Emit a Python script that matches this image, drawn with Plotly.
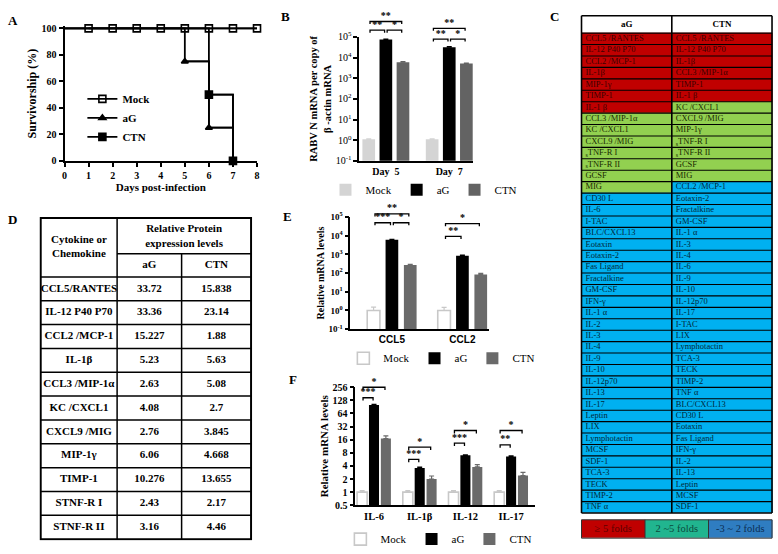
import math
import plotly.graph_objects as go

W, H = 778, 554
SERIF = "Liberation Serif"
SANS = "Liberation Sans"

# ---------------- A: survival ----------------
mock_days = [0, 1, 2, 3, 4, 5, 6, 7, 8]
mock_surv = [100, 100, 100, 100, 100, 100, 100, 100, 100]
ag_days = [0, 5, 6, 7]
ag_surv = [100, 75, 25, 0]
ctn_days = [0, 6, 7]
ctn_surv = [100, 50, 0]

# ---------------- B: RABV N mRNA ----------------
b_groups = ["Day\u00a0 5", "Day\u00a0 7"]
b_mock = [1.1, 1.1]
b_mock_err = [0.06, 0.06]
b_ag = [7.5e4, 3.2e4]
b_ag_err = [4e3, 2e3]
b_ctn = [6.0e3, 5.2e3]
b_ctn_err = [4e2, 3e2]
# (group, left bar, right bar, log10 level, label)
b_sig = [
    (0, "Mock", "aG", 5.33, "**"),
    (0, "aG", "CTN", 5.33, "*"),
    (0, "Mock", "CTN", 5.75, "**"),
    (1, "Mock", "aG", 4.90, "**"),
    (1, "aG", "CTN", 4.90, "*"),
    (1, "Mock", "CTN", 5.42, "**"),
]

# ---------------- E: CCL5 / CCL2 mRNA ----------------
e_groups = ["CCL5", "CCL2"]
e_mock = [1.0, 1.0]
e_mock_err = [0.5, 0.45]
e_ag = [6000, 850]
e_ag_err = [400, 60]
e_ctn = [270, 85]
e_ctn_err = [20, 12]
e_sig = [
    (0, "Mock", "aG", 4.69, "***"),
    (0, "aG", "CTN", 4.69, "*"),
    (0, "Mock", "CTN", 5.16, "**"),
    (1, "Mock", "aG", 3.96, "**"),
    (1, "Mock", "CTN", 4.64, "*"),
]

# ---------------- F: IL mRNA ----------------
f_groups = ["IL-6", "IL-1β", "IL-12", "IL-17"]
f_mock = [1.0, 1.0, 1.0, 1.0]
f_mock_err = [0.08, 0.08, 0.08, 0.08]
f_ag = [100, 3.6, 7.0, 6.6]
f_ag_err = [4, 0.15, 0.2, 0.2]
f_ctn = [17, 2.0, 3.8, 2.4]
f_ctn_err = [2.5, 0.35, 0.5, 0.45]
# levels in log2
f_sig = [
    (0, "Mock", "aG", 7.2, "***"),
    (0, "Mock", "CTN", 8.0, "*"),
    (1, "Mock", "aG", 2.5, "***"),
    (1, "Mock", "CTN", 3.44, "*"),
    (2, "Mock", "aG", 3.74, "***"),
    (2, "Mock", "CTN", 4.7, "*"),
    (3, "Mock", "aG", 3.6, "**"),
    (3, "Mock", "CTN", 4.7, "*"),
]

# ---------------- C: fold-change table ----------------
c_ag_high = ["CCL5 /RANTES", "IL-12 P40 P70", "CCL2 /MCP-1", "IL-1β", "MIP-1γ",
             "TIMP-1", "IL-1 β"]
c_ag_mid = ["CCL3 /MIP-1α", "KC /CXCL1", "CXCL9 /MIG", "<sub>s</sub>TNF-R I",
            "<sub>s</sub>TNF-R II", "GCSF", "MIG"]
c_ag_low = ["CD30 L", "IL-6", "I-TAC", "BLC/CXCL13", "Eotaxin", "Eotaxin-2",
            "Fas Ligand", "Fractalkine", "GM-CSF", "IFN-γ", "IL-1 α", "IL-2", "IL-3",
            "IL-4", "IL-9", "IL-10", "IL-12p70", "IL-13", "IL-17", "Leptin", "LIX",
            "Lymphotactin", "MCSF", "SDF-1", "TCA-3", "TECK", "TIMP-2", "TNF α"]
c_ctn_high = ["CCL5 /RANTES", "IL-12 P40 P70", "IL-1β", "CCL3 /MIP-1α", "TIMP-1",
              "IL-1 β"]
c_ctn_mid = ["KC /CXCL1", "CXCL9 /MIG", "MIP-1γ", "<sub>s</sub>TNF-R I",
             "<sub>s</sub>TNF-R II", "GCSF", "MIG"]
c_ctn_low = ["CCL2 /MCP-1", "Eotaxin-2", "Fractalkine", "GM-CSF", "IL-1 α", "IL-3",
             "IL-4", "IL-6", "IL-9", "IL-10", "IL-12p70", "IL-17", "I-TAC", "LIX",
             "Lymphotactin", "TCA-3", "TECK", "TIMP-2", "TNF α", "BLC/CXCL13",
             "CD30 L", "Eotaxin", "Fas Ligand", "IFN-γ", "IL-2", "IL-13", "Leptin",
             "MCSF", "SDF-1"]
c_legend = ["≥ 5 folds", "2 ~5 folds", "-3 ~ 2 folds"]

# ---------------- D: protein table ----------------
d_names = ["CCL5/RANTES", "IL-12 P40 P70", "CCL2 /MCP-1", "IL-1β", "CCL3 /MIP-1α",
           "KC /CXCL1", "CXCL9 /MIG", "MIP-1γ", "TIMP-1", "STNF-R I", "STNF-R II"]
d_ag = [33.72, 33.36, 15.227, 5.23, 2.63, 4.08, 2.76, 6.06, 10.276, 2.43, 3.16]
d_ctn = [15.838, 23.14, 1.88, 5.63, 5.08, 2.7, 3.845, 4.668, 13.655, 2.17, 4.46]

RED, GREEN, BLUE = "#C00000", "#92D050", "#00B0F0"
TXT = ["#3a0000", "#1a2a00", "#00283a"]


def xd(a, b):
    return [a / W, b / W]


def yd(top, bottom):
    return [1 - bottom / H, 1 - top / H]


def f_(size, bold=False, family=SERIF, color="black"):
    d = dict(family=family, size=size, color=color)
    if bold:
        d["weight"] = "bold"
    return d


AX = dict(showline=True, linecolor="black", linewidth=1.5, ticks="outside",
          ticklen=4, tickwidth=1.5, tickcolor="black", showgrid=False,
          zeroline=False, fixedrange=True)
HID = dict(visible=False, showgrid=False, zeroline=False, fixedrange=True)

fig = go.Figure()

# ---------- A ----------
for name, xs, ys, sym, size in [("Mock", mock_days, mock_surv, "square-open", 7),
                                ("aG", ag_days, ag_surv, "triangle-up", 6),
                                ("CTN", ctn_days, ctn_surv, "square", 7)]:
    fig.add_trace(go.Scatter(x=xs, y=ys, mode="lines", line=dict(color="black", width=1.8, shape="hv"),
                             showlegend=False, hoverinfo="skip", xaxis="x", yaxis="y"))
    mx = [d for d in xs if d > 0]
    my = [v for d, v in zip(xs, ys) if d > 0]
    fig.add_trace(go.Scatter(x=mx, y=my, mode="lines+markers", name=name,
                             line=dict(color="black", width=1.8, shape="hv"),
                             marker=dict(symbol=sym, size=size, color="black",
                                         line=dict(color="black", width=1.6)),
                             cliponaxis=False, hoverinfo="skip", xaxis="x", yaxis="y"))


# ---------- bar panels ----------
def add_bars(groups, series, xa, ya, leg, off, width):
    n = len(groups)
    for k, (name, vals, errs, fill, edge) in enumerate(series):
        xs = [g + (k - 1) * off for g in range(n)]
        fig.add_trace(go.Bar(
            x=xs, y=vals, width=width, name=name, legend=leg,
            marker=dict(color=fill, line=dict(color=edge or fill, width=1.6 if edge else 0)),
            error_y=dict(type="data", array=errs, arrayminus=[0] * n, symmetric=False,
                         color=edge or fill, thickness=1.2, width=2.5),
            xaxis=xa, yaxis=ya, hoverinfo="skip"))


def add_sig(sig, off, xa, ya, base, drop):
    pos = {"Mock": -off, "aG": 0.0, "CTN": off}
    for g, a, b, lvl, label in sig:
        x0 = g + pos[a] + 0.02
        x1 = g + pos[b] - 0.02
        y = base ** lvl
        ylo = base ** (lvl - drop)
        fig.add_trace(go.Scatter(x=[x0, x0, x1, x1], y=[ylo, y, y, ylo], mode="lines",
                                 line=dict(color="black", width=1.3), showlegend=False,
                                 hoverinfo="skip", xaxis=xa, yaxis=ya))
        fig.add_trace(go.Scatter(x=[(x0 + x1) / 2], y=[y], mode="text", text=[label],
                                 textposition="top center", textfont=f_(10, True),
                                 showlegend=False, hoverinfo="skip", cliponaxis=False,
                                 xaxis=xa, yaxis=ya))


add_bars(b_groups, [("Mock", b_mock, b_mock_err, "#D4D4D4", None),
                    ("aG", b_ag, b_ag_err, "black", None),
                    ("CTN", b_ctn, b_ctn_err, "#636363", None)],
         "x2", "y2", "legend2", 0.27, 0.2)
add_sig(b_sig, 0.27, "x2", "y7", 10, 0.12)

add_bars(e_groups, [("Mock", e_mock, e_mock_err, "white", "#C8C8C8"),
                    ("aG", e_ag, e_ag_err, "black", None),
                    ("CTN", e_ctn, e_ctn_err, "#6A6A6A", None)],
         "x3", "y3", "legend3", 0.26, 0.18)
add_sig(e_sig, 0.26, "x3", "y8", 10, 0.14)

add_bars(f_groups, [("Mock", f_mock, f_mock_err, "white", "#C8C8C8"),
                    ("aG", f_ag, f_ag_err, "black", None),
                    ("CTN", f_ctn, f_ctn_err, "#6A6A6A", None)],
         "x4", "y4", "legend4", 0.26, 0.22)
add_sig(f_sig, 0.26, "x4", "y9", 2, 0.22)

# ---------- C table (px units) ----------
C_COLX = [0, 91, 192]
C_HDR = 18
C_ROW = 496 / 42
ag_col = [(s, 0) for s in c_ag_high] + [(s, 1) for s in c_ag_mid] + [(s, 2) for s in c_ag_low]
ctn_col = [(s, 0) for s in c_ctn_high] + [(s, 1) for s in c_ctn_mid] + [(s, 2) for s in c_ctn_low]
nrow = len(ag_col)
c_edges = [0, C_HDR] + [C_HDR + C_ROW * (i + 1) for i in range(nrow)]
z = [[3, 3]] + [[a[1], c[1]] for a, c in zip(ag_col, ctn_col)]
cs = [[0, RED], [0.25, RED], [0.25, GREEN], [0.5, GREEN], [0.5, BLUE], [0.75, BLUE],
      [0.75, "white"], [1, "white"]]
fig.add_trace(go.Heatmap(z=z, x=C_COLX, y=c_edges, colorscale=cs, zmin=0, zmax=3,
                         showscale=False, hoverinfo="skip", xaxis="x5", yaxis="y5"))
centers = [(c_edges[i + 1] + c_edges[i + 2]) / 2 for i in range(nrow)]
for col, x0 in [(ag_col, C_COLX[0]), (ctn_col, C_COLX[1])]:
    fig.add_trace(go.Scatter(x=[x0 + 4] * nrow, y=centers, mode="text",
                             text=[s for s, _ in col], textposition="middle right",
                             textfont=dict(family=SERIF, size=8.5, color=[TXT[k] for _, k in col]),
                             showlegend=False, hoverinfo="skip", cliponaxis=False,
                             xaxis="x5", yaxis="y5"))
fig.add_trace(go.Scatter(x=[(C_COLX[0] + C_COLX[1]) / 2, (C_COLX[1] + C_COLX[2]) / 2],
                         y=[C_HDR / 2] * 2, mode="text", text=["aG", "CTN"],
                         textfont=f_(9, True), showlegend=False, hoverinfo="skip",
                         xaxis="x5", yaxis="y5"))
shapes = []
for i, yv in enumerate(c_edges):
    w = 1.6 if i in (0, len(c_edges) - 1) else 1.1
    shapes.append(dict(type="line", xref="x5", yref="y5", x0=C_COLX[0], x1=C_COLX[-1],
                       y0=yv, y1=yv, line=dict(color="black", width=w)))
for xv in C_COLX:
    shapes.append(dict(type="line", xref="x5", yref="y5", x0=xv, x1=xv, y0=0,
                       y1=c_edges[-1], line=dict(color="black", width=1.6)))

# C legend boxes
L_COLX = [0, 64, 128, 192]
L_H = 19
fig.add_trace(go.Heatmap(z=[[0, 1, 2]], x=L_COLX, y=[0, L_H],
                         colorscale=[[0, RED], [0.33, RED], [0.33, "#21B58F"], [0.67, "#21B58F"],
                                     [0.67, "#2F7DC1"], [1, "#2F7DC1"]],
                         zmin=0, zmax=2, showscale=False, hoverinfo="skip",
                         xaxis="x6", yaxis="y6"))
fig.add_trace(go.Scatter(x=[(L_COLX[i] + L_COLX[i + 1]) / 2 for i in range(3)],
                         y=[L_H / 2] * 3, mode="text", text=c_legend,
                         textfont=dict(family=SERIF, size=10.5,
                                       color=["#5a0000", "#0b4a3c", "#0b2d52"]),
                         showlegend=False, hoverinfo="skip", xaxis="x6", yaxis="y6"))
shapes.append(dict(type="rect", xref="x6", yref="y6", x0=0, x1=L_COLX[-1], y0=0, y1=L_H,
                   line=dict(color="#333333", width=1)))
for xv in L_COLX[1:-1]:
    shapes.append(dict(type="line", xref="x6", yref="y6", x0=xv, x1=xv, y0=0, y1=L_H,
                       line=dict(color="#333333", width=1)))

# ---------- D table (px units) ----------
D_COLX = [0, 77, 142, 212]
D_HDR = [0, 37, 61]
D_BOT = 332
nd = len(d_names)
d_row = (D_BOT - D_HDR[-1]) / nd
d_edges = [D_HDR[-1] + d_row * i for i in range(nd + 1)]
dc = [(D_COLX[i] + D_COLX[i + 1]) / 2 for i in range(3)]
dy = [(d_edges[i] + d_edges[i + 1]) / 2 for i in range(nd)]
for xc, vals in [(dc[0], d_names), (dc[1], [f"{v:g}" for v in d_ag]),
                 (dc[2], [f"{v:g}" for v in d_ctn])]:
    fig.add_trace(go.Scatter(x=[xc] * nd, y=dy, mode="text", text=vals,
                             textfont=f_(11, True), showlegend=False, hoverinfo="skip",
                             cliponaxis=False, xaxis="x10", yaxis="y10"))
fig.add_trace(go.Scatter(
    x=[dc[0], (D_COLX[1] + D_COLX[3]) / 2, dc[1], dc[2]],
    y=[(D_HDR[0] + D_HDR[2]) / 2, (D_HDR[0] + D_HDR[1]) / 2 + 1,
       (D_HDR[1] + D_HDR[2]) / 2, (D_HDR[1] + D_HDR[2]) / 2],
    mode="text",
    text=["Cytokine or<br>Chemokine", "Relative Protein<br>expression levels", "aG", "CTN"],
    textfont=f_(11, True), showlegend=False, hoverinfo="skip", cliponaxis=False,
    xaxis="x10", yaxis="y10"))
shapes.append(dict(type="rect", xref="x10", yref="y10", x0=D_COLX[0], x1=D_COLX[-1],
                   y0=0, y1=D_BOT, line=dict(color="black", width=2)))
shapes.append(dict(type="line", xref="x10", yref="y10", x0=D_COLX[1], x1=D_COLX[1],
                   y0=0, y1=D_BOT, line=dict(color="black", width=1.5)))
shapes.append(dict(type="line", xref="x10", yref="y10", x0=D_COLX[2], x1=D_COLX[2],
                   y0=D_HDR[1], y1=D_BOT, line=dict(color="black", width=1.5)))
shapes.append(dict(type="line", xref="x10", yref="y10", x0=D_COLX[1], x1=D_COLX[3],
                   y0=D_HDR[1], y1=D_HDR[1], line=dict(color="black", width=1.5)))
for yv in d_edges[:-1]:
    shapes.append(dict(type="line", xref="x10", yref="y10", x0=D_COLX[0], x1=D_COLX[3],
                       y0=yv, y1=yv, line=dict(color="black", width=1.5)))

# ---------- panel letters ----------
annotations = []
for lab, px, py in [("A", 10, 14), ("B", 285, 10), ("C", 556, 10), ("D", 10, 220),
                    ("E", 287, 217), ("F", 292, 385)]:
    annotations.append(dict(text=lab, x=px / W, y=1 - py / H, xref="paper", yref="paper",
                            showarrow=False, xanchor="center", yanchor="middle",
                            font=f_(13, True)))


def log_ext(top, bottom, lo, hi, ext_top):
    ppu = (bottom - top) / (hi - lo)
    return yd(ext_top, bottom), [lo, hi + (top - ext_top) / ppu]


b_dom, b_rng = log_ext(31, 159, -1, 5, 2)
e_dom, e_rng = log_ext(217, 333, -1, 5, 203)
f_lo, f_hi = math.log10(0.5), math.log10(256)
f_dom, f_rng = log_ext(393, 515, f_lo, f_hi, 379)

pow_ticks = [10 ** k for k in range(-1, 6)]
pow_text = [f"10<sup>{k}</sup>" for k in range(-1, 6)]
f_ticks = [2 ** k for k in range(-1, 9)]
f_text = ["0.5"] + [str(2 ** k) for k in range(0, 9)]

fig.update_layout(
    width=W, height=H, autosize=False, margin=dict(l=0, r=0, t=0, b=0),
    paper_bgcolor="white", plot_bgcolor="rgba(0,0,0,0)", barmode="overlay",
    font=dict(family=SERIF, color="black"),
    shapes=shapes, annotations=annotations,
    # A
    xaxis=dict(AX, domain=xd(62, 256), range=[0, 8], tickvals=list(range(9)), anchor="y",
               linewidth=2, tickfont=f_(10, True),
               title=dict(text="Days post-infection", font=f_(11, True), standoff=3)),
    yaxis=dict(AX, domain=yd(20, 159), range=[0, 101.5], tickvals=[0, 20, 40, 60, 80, 100],
               anchor="x", linewidth=2, tickfont=f_(10, True),
               title=dict(text="Survivorship (%)", font=f_(12, True), standoff=2)),
    # B
    xaxis2=dict(AX, domain=xd(359, 474), range=[-0.42, 1.38], tickvals=[0, 1],
                ticktext=b_groups, ticks="", anchor="y2", tickfont=f_(10, True)),
    yaxis2=dict(AX, domain=yd(31, 159), type="log", range=[-1, 5], tickvals=pow_ticks,
                ticktext=pow_text, anchor="x2", tickfont=f_(10),
                title=dict(text="RABV N mRNA per copy of<br>β -actin mRNA",
                           font=f_(10.5, True), standoff=2)),
    yaxis7=dict(HID, domain=b_dom, type="log", range=b_rng, anchor="x2"),
    # E
    xaxis3=dict(AX, domain=xd(350, 490), range=[-0.59, 1.38], tickvals=[0, 1],
                ticktext=e_groups, ticks="", anchor="y3", tickfont=f_(10, True, SANS)),
    yaxis3=dict(AX, domain=yd(217, 333), type="log", range=[-1, 5], tickvals=pow_ticks,
                ticktext=pow_text, anchor="x3", tickfont=f_(9, True),
                title=dict(text="Relative mRNA levels", font=f_(10, True), standoff=2)),
    yaxis8=dict(HID, domain=e_dom, type="log", range=e_rng, anchor="x3"),
    # F
    xaxis4=dict(AX, domain=xd(355, 536), range=[-0.41, 3.52], tickvals=[0, 1, 2, 3],
                ticktext=f_groups, ticks="", anchor="y4", tickfont=f_(10.5, True)),
    yaxis4=dict(AX, domain=yd(393, 515), type="log", range=[f_lo, f_hi], tickvals=f_ticks,
                ticktext=f_text, anchor="x4", tickfont=f_(10, True),
                title=dict(text="Relative mRNA levels", font=f_(11, True), standoff=2)),
    yaxis9=dict(HID, domain=f_dom, type="log", range=f_rng, anchor="x4"),
    # C
    xaxis5=dict(HID, domain=xd(581.5, 776.5), range=[-1.5, 193.5], anchor="y5"),
    yaxis5=dict(HID, domain=yd(7.5, 524.5), range=[c_edges[-1] + 1.5, -1.5], anchor="x5"),
    xaxis6=dict(HID, domain=xd(582, 776), range=[-1, 193], anchor="y6"),
    yaxis6=dict(HID, domain=yd(529, 550), range=[L_H + 1, -1], anchor="x6"),
    # D
    xaxis10=dict(HID, domain=xd(36.5, 251.5), range=[-1.5, 213.5], anchor="y10"),
    yaxis10=dict(HID, domain=yd(216.5, 551.5), range=[D_BOT + 1.5, -1.5], anchor="x10"),
    # legends
    legend=dict(x=80 / W, y=1 - 80 / H, xanchor="left", yanchor="top",
                font=f_(11, True), bgcolor="rgba(0,0,0,0)", tracegroupgap=0, itemwidth=30),
    legend2=dict(orientation="h", x=325 / W, y=1 - 174 / H, xanchor="left", yanchor="top",
                 font=f_(11), bgcolor="rgba(0,0,0,0)", itemwidth=30),
    legend3=dict(orientation="h", x=343 / W, y=1 - 348 / H, xanchor="left", yanchor="top",
                 font=f_(11), bgcolor="rgba(0,0,0,0)", itemwidth=30),
    legend4=dict(orientation="h", x=340 / W, y=1 - 535 / H, xanchor="left", yanchor="top",
                 font=f_(11), bgcolor="rgba(0,0,0,0)", itemwidth=30),
)

# page margin would push the fixed-size figure off the window
fig.write_html("out.html", config={"displayModeBar": False},
               post_script="document.body.style.margin='0';")
